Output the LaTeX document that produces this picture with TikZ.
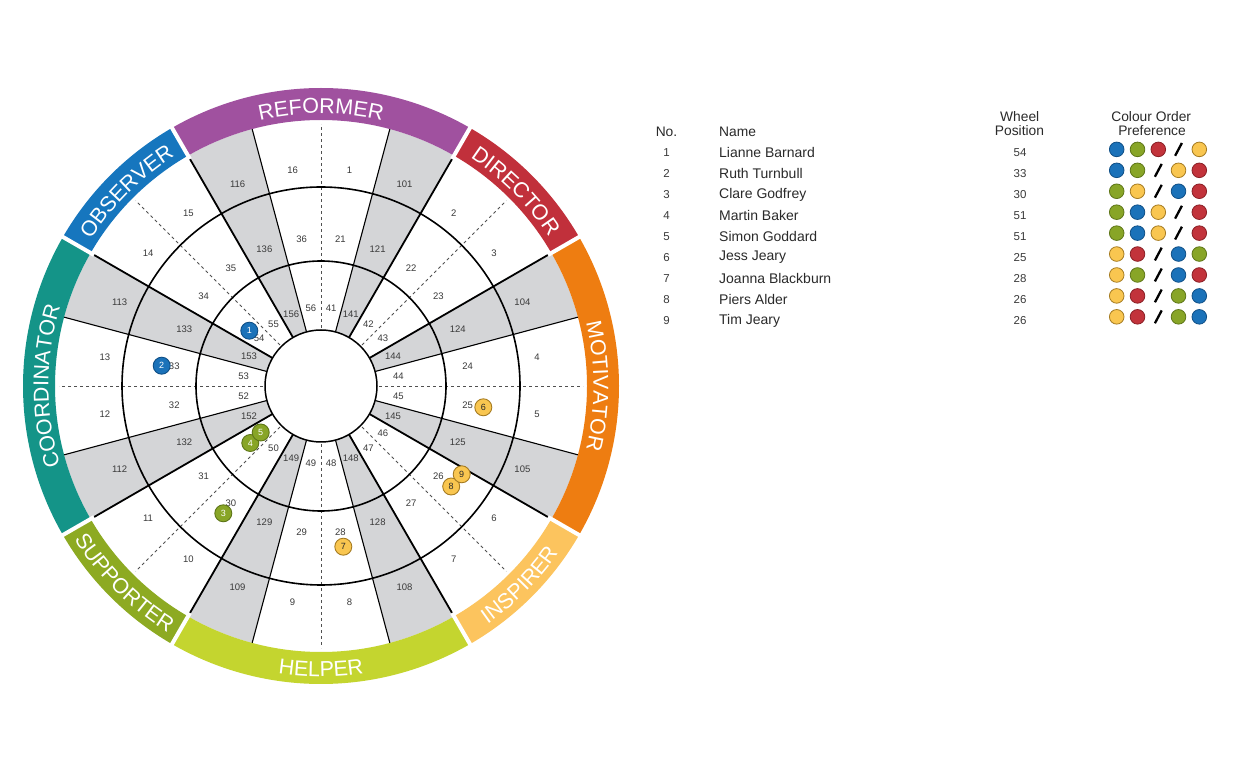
\documentclass[tikz,border=0pt]{standalone}
\usepackage{fontspec}
\setmainfont{Liberation Sans}
\usetikzlibrary{decorations.text}
\definecolor{reformer}{HTML}{A0519F}
\definecolor{director}{HTML}{C1303B}
\definecolor{motivator}{HTML}{EE7D11}
\definecolor{inspirer}{HTML}{FCC45E}
\definecolor{helper}{HTML}{C4D52F}
\definecolor{supporter}{HTML}{8DAA22}
\definecolor{coordinator}{HTML}{149488}
\definecolor{observer}{HTML}{1676BE}
\definecolor{greyfill}{HTML}{D4D5D7}
\definecolor{numgrey}{HTML}{3A3A3A}
\definecolor{dashgrey}{HTML}{505050}
\definecolor{txtgrey}{HTML}{2A2A2A}
\definecolor{dotblue}{HTML}{1B72B9}
\definecolor{dotblueD}{HTML}{0F4F86}
\definecolor{dotgreen}{HTML}{88A527}
\definecolor{dotgreenD}{HTML}{5E7618}
\definecolor{dotyellow}{HTML}{F9C650}
\definecolor{dotyellowD}{HTML}{A67C22}
\definecolor{dotred}{HTML}{C2333B}
\definecolor{dotredD}{HTML}{8A1F25}
\newcommand\bandfont{\fontsize{21.5}{21.5}\selectfont\color{white}}
\begin{document}
\begin{tikzpicture}[x=1pt,y=1pt,
  wnum/.style={font=\fontsize{9.5}{9.5}\selectfont, text=numgrey, inner sep=0pt},
  thickrad/.style={line width=1.8pt, black},
  thinrad/.style={line width=1.1pt, black},
  ringline/.style={line width=1.6pt, black},
  dashrad/.style={line width=0.9pt, dash pattern=on 3pt off 3pt, dashgrey},
  person/.style={circle, minimum size=17pt, inner sep=0pt, line width=0.9pt, font=\fontsize{9}{9}\selectfont},
  pB/.style={person, fill=dotblue, draw=dotblueD, text=white},
  pG/.style={person, fill=dotgreen, draw=dotgreenD, text=white},
  pY/.style={person, fill=dotyellow, draw=dotyellowD, text=txtgrey},
  hdr/.style={font=\fontsize{13.8}{14}\selectfont, text=txtgrey, inner sep=0pt},
  tname/.style={font=\fontsize{14}{14}\selectfont, text=txtgrey, inner sep=0pt, anchor=west},
  tnum/.style={font=\fontsize{11.5}{12}\selectfont, text=numgrey, inner sep=0pt},
  prefbase/.style={circle, minimum size=14.6pt, inner sep=0pt, line width=0.8pt},
  prefB/.style={prefbase, fill=dotblue, draw=dotblueD},
  prefG/.style={prefbase, fill=dotgreen, draw=dotgreenD},
  prefR/.style={prefbase, fill=dotred, draw=dotredD},
  prefY/.style={prefbase, fill=dotyellow, draw=dotyellowD},
  prefS/.style={circle, minimum size=20pt, inner sep=0pt, fill=white,
    path picture={\draw[line width=2.3pt, black]
      ([xshift=-3.4pt,yshift=-6.4pt]path picture bounding box.center) --
      ([xshift=3.4pt,yshift=6.4pt]path picture bounding box.center);}}
]
\useasboundingbox (0,0) rectangle (1233,771);
\fill[white] (0,0) rectangle (1233,771);

\begin{scope}[shift={(321,385)}]
  % wheel disc
  \fill[white] (0,0) circle[radius=266];
  % grey sectors
  \foreach \a in {15,60,105,150,195,240,285,330}
    \fill[greyfill] (0,0) -- (\a:266) arc[start angle=\a, end angle=\a+15, radius=266] -- cycle;
  % dashed radial lines
  \foreach \a in {0,45,...,315}
    \draw[dashrad] (\a:58) -- (\a:262);
  % ring circles
  \draw[ringline] (0,0) circle[radius=125];
  \draw[ringline] (0,0) circle[radius=199];
  % radial lines
  \foreach \a in {30,60,120,150,210,240,300,330}
    \draw[thickrad] (\a:56) -- (\a:266);
  \foreach \a in {15,75,105,165,195,255,285,345}
    \draw[thinrad] (\a:56) -- (\a:266);
  % inner disc
  \filldraw[fill=white, draw=black, line width=1.5pt] (0,0) circle[radius=56];
  % coloured band
  \foreach \a/\b/\c in {60/120/reformer, 30/60/director, -30/30/motivator, -60/-30/inspirer,
                        -120/-60/helper, -150/-120/supporter, 150/210/coordinator, 120/150/observer}
    \fill[\c] (\a:266) arc[start angle=\a, end angle=\b, radius=266] -- (\b:298)
              arc[start angle=\b, end angle=\a, radius=298] -- cycle;
  \foreach \a in {30,60,120,150,210,240,300,330}
    \draw[white, line width=4pt] (\a:262) -- (\a:302);
  % band texts
  \path[decorate, decoration={text along path, text align=center, text={|\bandfont|REFORMER}}]
    (120:272.5) arc[start angle=120, end angle=60, radius=272.5];
  \path[decorate, decoration={text along path, text align=center, text={|\bandfont|DIRECTOR}}]
    (60:272.5) arc[start angle=60, end angle=30, radius=272.5];
  \path[decorate, decoration={text along path, text align=center, text={|\bandfont|MOTIVATOR}}]
    (30:272.5) arc[start angle=30, end angle=-30, radius=272.5];
  \path[decorate, decoration={text along path, text align=center, text={|\bandfont|OBSERVER}}]
    (150:272.5) arc[start angle=150, end angle=120, radius=272.5];
  \path[decorate, decoration={text along path, text align=center, text={|\bandfont|COORDINATOR}}]
    (210:272.5) arc[start angle=210, end angle=150, radius=272.5];
  \path[decorate, decoration={text along path, text align=center, text={|\bandfont|INSPIRER}}]
    (-60:290.5) arc[start angle=-60, end angle=-30, radius=290.5];
  \path[decorate, decoration={text along path, text align=center, text={|\bandfont|HELPER}}]
    (-120:290.5) arc[start angle=-120, end angle=-60, radius=290.5];
  \path[decorate, decoration={text along path, text align=center, text={|\bandfont|SUPPORTER}}]
    (-150:290.5) arc[start angle=-150, end angle=-120, radius=290.5];
  % position numbers
  \foreach \k/\a in {1/82.5,2/52.5,3/37.5,4/7.5,5/-7.5,6/-37.5,7/-52.5,8/-82.5,9/-97.5,
                     10/-127.5,11/-142.5,12/-172.5,13/172.5,14/142.5,15/127.5,16/97.5,
                     101/67.5,104/22.5,105/-22.5,108/-67.5,109/-112.5,112/-157.5,113/157.5,116/112.5} {
    \pgfmathtruncatemacro\midn{\k+20}
    \pgfmathtruncatemacro\innn{\k+40}
    \node[wnum] (r\k) at (\a:218) {\k};
    \node[wnum] (m\midn) at (\a:148) {\midn};
    \node[wnum] (i\innn) at (\a:78) {\innn};
  }
\end{scope}

% people on the wheel
\node[pB] (d1) at (249.3,440.3) {1};
\node[pB] (d2) at (161.7,405.3) {2};
\node[pG] (d3) at (223.3,257.7) {3};
\node[pG] (d4) at (250.3,328.0) {4};
\node[pG] (d5) at (260.7,338.5) {5};
\node[pY] (d6) at (483.3,363.7) {6};
\node[pY] (d7) at (343.3,224.3) {7};
\node[pY] (d8) at (451.2,284.5) {8};
\node[pY] (d9) at (461.7,296.7) {9};

% table header
\node[hdr] (hno) at (666.5,639.3) {No.};
\node[hdr, anchor=west] (hname) at (719,639.3) {Name};
\node[hdr] (hwp1) at (1019.7,654.3) {Wheel};
\node[hdr] (hwp2) at (1019.5,640) {Position};
\node[hdr] (hco1) at (1151.2,654.3) {Colour Order};
\node[hdr] (hco2) at (1152,640) {Preference};

% table rows
\foreach \i/\nm/\pos/\ca/\cb/\cc/\cd/\ce [count=\k from 0] in {
  1/Lianne Barnard/54/B/G/R/S/Y,
  2/Ruth Turnbull/33/B/G/S/Y/R,
  3/Clare Godfrey/30/G/Y/S/B/R,
  4/Martin Baker/51/G/B/Y/S/R,
  5/Simon Goddard/51/G/B/Y/S/R,
  6/Jess Jeary/25/Y/R/S/B/G,
  7/Joanna Blackburn/28/Y/G/S/B/R,
  8/Piers Alder/26/Y/R/S/G/B,
  9/Tim Jeary/26/Y/R/S/G/B} {
  \pgfmathsetmacro\ty{771-152.3-21.05*\k}
  \pgfmathsetmacro\dy{771-149.4-20.93*\k}
  \node[tnum] (no\i) at (666.5,\ty) {\i};
  \node[tname] (nm\i) at (719,\ty) {\nm};
  \node[tnum] (wp\i) at (1020,\ty) {\pos};
  \node[pref\ca] (pa\i) at (1116.7,\dy) {};
  \node[pref\cb] (pb\i) at (1137.5,\dy) {};
  \node[pref\cc] (pc\i) at (1158.3,\dy) {};
  \node[pref\cd] (pd\i) at (1178.5,\dy) {};
  \node[pref\ce] (pe\i) at (1199.3,\dy) {};
}
\end{tikzpicture}
\end{document}
